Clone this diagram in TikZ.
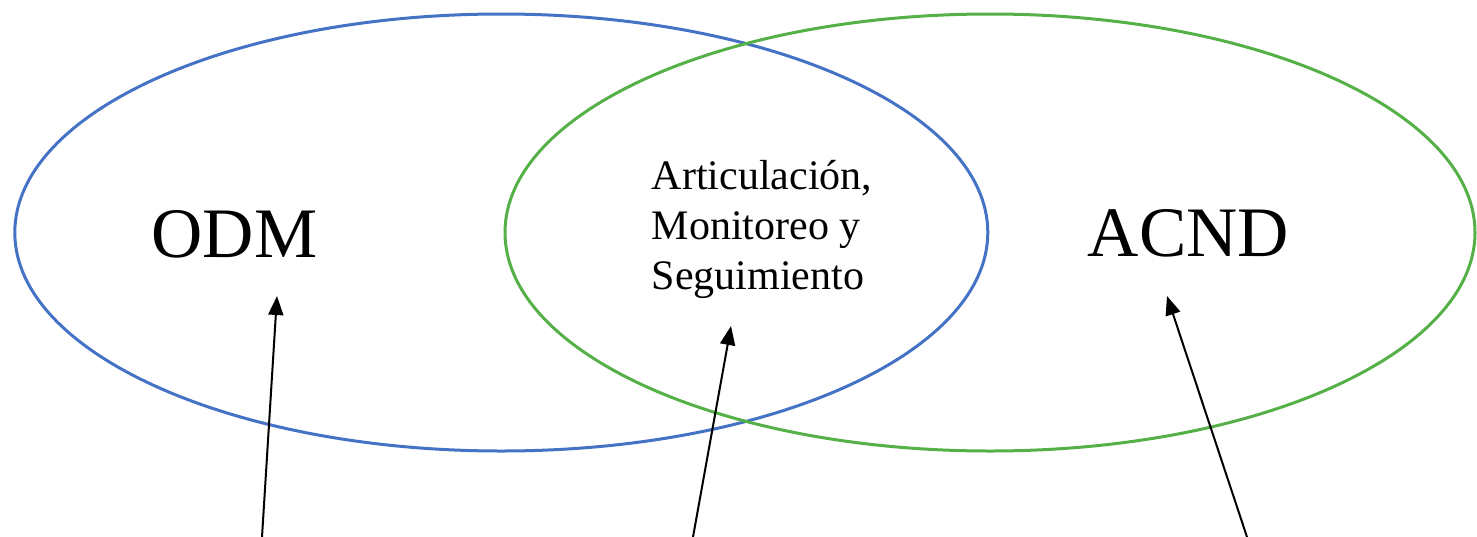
\documentclass[tikz,border=0pt]{standalone}
\usepackage{fontspec}
\setmainfont{Liberation Serif}
\usetikzlibrary{shapes.geometric,arrows.meta}
\definecolor{setblue}{HTML}{4472C4}
\definecolor{setgreen}{HTML}{55B048}
\tikzset{
  setring/.style={draw, ellipse, line width=3pt, inner sep=0pt, minimum width=973pt, minimum height=437pt},
  biglabel/.style={font=\fontsize{71}{80}\selectfont, inner sep=0pt},
  midlabel/.style={font=\fontsize{42}{50}\selectfont, align=left, inner sep=0pt},
  pointer/.style={line width=2pt, -{Triangle[length=19pt,width=15pt]}}
}
\begin{document}
\begin{tikzpicture}[x=1pt,y=-1pt]
\useasboundingbox (0,0) rectangle (1477,536);
\node[setring, draw=setblue] (odmset) at (501.3,232.5) {};
\node[setring, draw=setgreen, minimum width=970pt] (acndset) at (990,232.5) {};
\node[biglabel, anchor=base] (odm) at (234.5,257) {ODM};
\node[biglabel, anchor=base] (acnd) at (1188.5,256) {ACND};
\node[midlabel] (mid) at (762,229) {Articulación,\\Monitoreo y\\Seguimiento};
\coordinate (odmfoot) at (262,537);
\coordinate (odmtip) at (277,296);
\coordinate (midfoot) at (693,537);
\coordinate (midtip) at (731,326);
\coordinate (acndfoot) at (1247,537);
\coordinate (acndtip) at (1167,296);
\draw[pointer] (odmfoot) -- (odmtip);
\draw[pointer] (midfoot) -- (midtip);
\draw[pointer] (acndfoot) -- (acndtip);
\end{tikzpicture}
\end{document}
